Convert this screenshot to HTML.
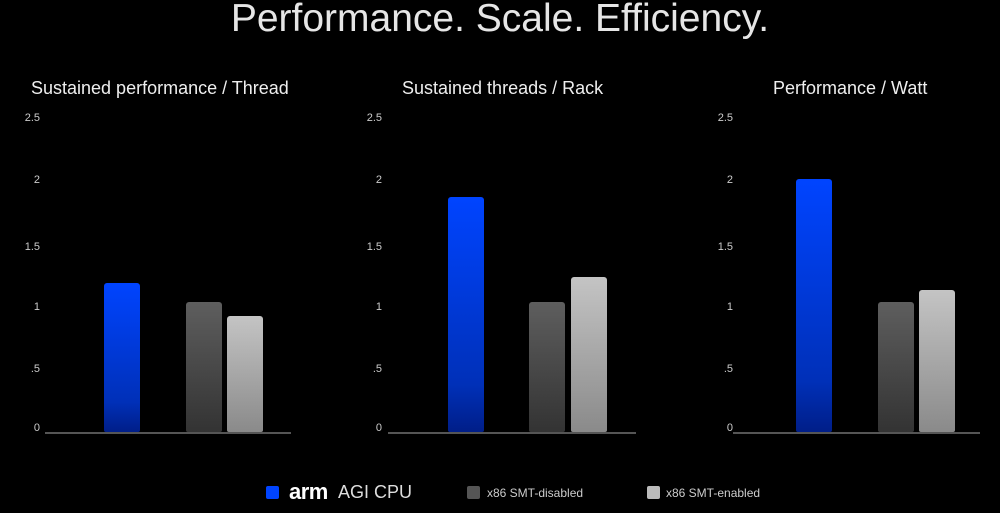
<!DOCTYPE html>
<html><head><style>
body{margin:0;width:1000px;height:513px;background:#000;overflow:hidden;font-family:"Liberation Sans",sans-serif;color:#fff;position:relative}
.a{position:absolute;white-space:nowrap}
.t{font-size:11px;color:#ccc;text-align:right;width:30px}
.h{font-size:18px;top:78px;color:#eee}
.bar{position:absolute;border-radius:3px 3px 2px 2px;bottom:81px;width:36px}
.b{background:linear-gradient(#0044ff,#0030b8 80%,#001e88)}
.g{background:linear-gradient(#5e5e5e,#333)}
.l{background:linear-gradient(#c4c4c4,#8a8a8a)}
.ax{position:absolute;top:432px;height:2px;background:#555}
</style></head><body>
<div class="a" style="left:0;width:1000px;text-align:center;top:-3px;font-size:39px;color:#e6e6e6">Performance. Scale. Efficiency.</div>
<div class="a h" style="left:31px">Sustained performance / Thread</div>
<div class="a h" style="left:402px">Sustained threads / Rack</div>
<div class="a h" style="left:773px">Performance / Watt</div>

<div class="a t" style="left:10px;top:112px">2.5</div><div class="a t" style="left:10px;top:174px">2</div><div class="a t" style="left:10px;top:241px">1.5</div><div class="a t" style="left:10px;top:301px">1</div><div class="a t" style="left:10px;top:363px">.5</div><div class="a t" style="left:10px;top:422px">0</div>
<div class="a t" style="left:352px;top:112px">2.5</div><div class="a t" style="left:352px;top:174px">2</div><div class="a t" style="left:352px;top:241px">1.5</div><div class="a t" style="left:352px;top:301px">1</div><div class="a t" style="left:352px;top:363px">.5</div><div class="a t" style="left:352px;top:422px">0</div>
<div class="a t" style="left:703px;top:112px">2.5</div><div class="a t" style="left:703px;top:174px">2</div><div class="a t" style="left:703px;top:241px">1.5</div><div class="a t" style="left:703px;top:301px">1</div><div class="a t" style="left:703px;top:363px">.5</div><div class="a t" style="left:703px;top:422px">0</div>

<div class="ax" style="left:45px;width:246px"></div>
<div class="ax" style="left:388px;width:248px"></div>
<div class="ax" style="left:733px;width:247px"></div>

<div class="bar b" style="left:104px;top:283px"></div>
<div class="bar g" style="left:186px;top:302px"></div>
<div class="bar l" style="left:227px;top:316px"></div>
<div class="bar b" style="left:448px;top:197px"></div>
<div class="bar g" style="left:529px;top:302px"></div>
<div class="bar l" style="left:571px;top:277px"></div>
<div class="bar b" style="left:796px;top:179px"></div>
<div class="bar g" style="left:878px;top:302px"></div>
<div class="bar l" style="left:919px;top:290px"></div>

<div class="a" style="left:266px;top:486px;width:13px;height:13px;background:#0044ff;border-radius:2px"></div>
<div class="a" style="left:289px;top:479px;font-size:22px;font-weight:bold;letter-spacing:-0.5px">arm</div>
<div class="a" style="left:338px;top:482px;font-size:18px;color:#ddd">AGI CPU</div>
<div class="a" style="left:467px;top:486px;width:13px;height:13px;background:#555;border-radius:2px"></div>
<div class="a" style="left:487px;top:486px;font-size:12px;color:#ccc">x86 SMT-disabled</div>
<div class="a" style="left:647px;top:486px;width:13px;height:13px;background:#bbb;border-radius:2px"></div>
<div class="a" style="left:666px;top:486px;font-size:12px;color:#ccc">x86 SMT-enabled</div>
</body></html>
